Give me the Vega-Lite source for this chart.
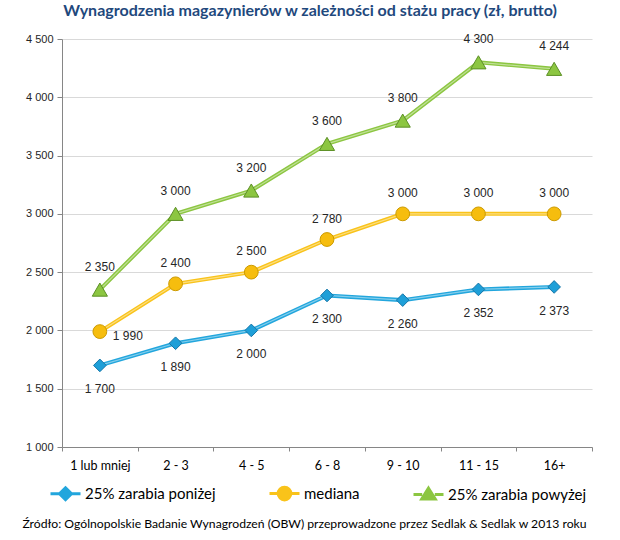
{
  "$schema": "https://vega.github.io/schema/vega-lite/v6.json",
  "width": 530,
  "height": 408,
  "autosize": {"type": "none"},
  "padding": {"left": 62, "top": 39, "right": 28, "bottom": 93},
  "background": "white",
  "config": {
    "locale": {"number": {"decimal": ",", "thousands": " ", "grouping": [3], "currency": ["", " zł"]}},
    "view": {"stroke": null}
  },
  "title": {
    "text": "Wynagrodzenia magazynierów w zależności od stażu pracy (zł, brutto)",
    "font": "Lato",
    "fontSize": 16,
    "fontWeight": "bold",
    "color": "#1F497D",
    "anchor": "middle",
    "dx": -17,
    "offset": 14
  },
  "data": {
    "values": [
      {"staz": "1 lub mniej", "seria": "25% zarabia poniżej", "wartosc": 1700},
      {"staz": "2 - 3", "seria": "25% zarabia poniżej", "wartosc": 1890},
      {"staz": "4 - 5", "seria": "25% zarabia poniżej", "wartosc": 2000},
      {"staz": "6 - 8", "seria": "25% zarabia poniżej", "wartosc": 2300},
      {"staz": "9 - 10", "seria": "25% zarabia poniżej", "wartosc": 2260},
      {"staz": "11 - 15", "seria": "25% zarabia poniżej", "wartosc": 2352},
      {"staz": "16+", "seria": "25% zarabia poniżej", "wartosc": 2373},
      {"staz": "1 lub mniej", "seria": "mediana", "wartosc": 1990},
      {"staz": "2 - 3", "seria": "mediana", "wartosc": 2400},
      {"staz": "4 - 5", "seria": "mediana", "wartosc": 2500},
      {"staz": "6 - 8", "seria": "mediana", "wartosc": 2780},
      {"staz": "9 - 10", "seria": "mediana", "wartosc": 3000},
      {"staz": "11 - 15", "seria": "mediana", "wartosc": 3000},
      {"staz": "16+", "seria": "mediana", "wartosc": 3000},
      {"staz": "1 lub mniej", "seria": "25% zarabia powyżej", "wartosc": 2350},
      {"staz": "2 - 3", "seria": "25% zarabia powyżej", "wartosc": 3000},
      {"staz": "4 - 5", "seria": "25% zarabia powyżej", "wartosc": 3200},
      {"staz": "6 - 8", "seria": "25% zarabia powyżej", "wartosc": 3600},
      {"staz": "9 - 10", "seria": "25% zarabia powyżej", "wartosc": 3800},
      {"staz": "11 - 15", "seria": "25% zarabia powyżej", "wartosc": 4300},
      {"staz": "16+", "seria": "25% zarabia powyżej", "wartosc": 4244}
    ]
  },
  "encoding": {
    "x": {
      "field": "staz",
      "type": "nominal",
      "sort": ["1 lub mniej", "2 - 3", "4 - 5", "6 - 8", "9 - 10", "11 - 15", "16+"],
      "scale": {"paddingInner": 0, "paddingOuter": 0},
      "axis": {
        "title": "Źródło: Ogólnopolskie Badanie Wynagrodzeń (OBW) przeprowadzone przez Sedlak & Sedlak w 2013 roku",
        "titleFont": "Lato",
        "titleFontSize": 12.2,
        "titleFontWeight": "normal",
        "titleColor": "#000000",
        "titlePadding": 46,
        "titleX": 242,
        "labelAngle": 0,
        "labelFont": "Lato",
        "labelFontSize": 12.5,
        "labelColor": "#000000",
        "labelPadding": 8,
        "tickBand": "extent",
        "tickSize": 4,
        "tickColor": "#868686",
        "domainColor": "#868686",
        "grid": false
      }
    },
    "y": {
      "field": "wartosc",
      "type": "quantitative",
      "scale": {"domain": [1000, 4500], "nice": false, "zero": false},
      "axis": {
        "title": null,
        "values": [1000, 1500, 2000, 2500, 3000, 3500, 4000, 4500],
        "format": ",d",
        "labelFont": "Liberation Sans",
        "labelFontSize": 11,
        "labelColor": "#262626",
        "labelPadding": 4,
        "tickSize": 5,
        "tickColor": "#868686",
        "domainColor": "#868686",
        "gridColor": "#D9D9D9",
        "gridWidth": 1
      }
    }
  },
  "layer": [
    {
      "mark": {"type": "line", "strokeWidth": 4},
      "encoding": {
        "color": {
          "field": "seria",
          "type": "nominal",
          "scale": {
            "domain": ["25% zarabia poniżej", "mediana", "25% zarabia powyżej"],
            "range": ["#22A6DD", "#F9C31A", "#8CC641"]
          },
          "legend": {
            "orient": "none",
            "legendX": -13,
            "legendY": 438,
            "direction": "horizontal",
            "title": null,
            "labelFont": "Lato",
            "labelFontSize": 15,
            "labelColor": "#000000",
            "symbolSize": 900,
            "columnPadding": 47,
            "labelOffset": 3,
            "encode": {
              "symbols": {
                "update": {
                  "shape": {"signal": "datum.value === 'mediana' ? 'M-1,0H-0.42M0.42,0H1M-0.42,0A0.42,0.42 0 1,0 0.42,0A0.42,0.42 0 1,0 -0.42,0Z' : datum.value === '25% zarabia poniżej' ? 'M-1,0H-0.4M0.4,0H1M0,-0.4L0.4,0L0,0.4L-0.4,0Z' : 'M-1,0H-0.42M0.42,0H1M0,-0.42L0.45,0.3L-0.45,0.3Z'"},
                  "fill": {"signal": "scale('color', datum.value)"},
                  "stroke": {"signal": "scale('color', datum.value)"},
                  "strokeWidth": {"value": 3},
                  "opacity": {"value": 1}
                }
              }
            }
          }
        }
      }
    },
    {
      "mark": {"type": "line", "strokeWidth": 1.2, "color": "white", "opacity": 0.45},
      "encoding": {"detail": {"field": "seria", "type": "nominal"}}
    },
    {
      "transform": [{"filter": "datum.seria === '25% zarabia poniżej'"}],
      "mark": {"type": "point", "shape": "diamond", "filled": true, "opacity": 1, "size": 160, "fill": "#1E9FD8", "stroke": "#1676A8", "strokeWidth": 1},
      "encoding": {}
    },
    {
      "transform": [{"filter": "datum.seria === 'mediana'"}],
      "mark": {"type": "point", "shape": "circle", "filled": true, "opacity": 1, "size": 190, "fill": "#F6BD0E", "stroke": "#CC9A00", "strokeWidth": 1},
      "encoding": {}
    },
    {
      "transform": [{"filter": "datum.seria === '25% zarabia powyżej'"}],
      "mark": {"type": "point", "shape": "triangle-up", "filled": true, "opacity": 1, "size": 230, "fill": "#8CC641", "stroke": "#5C8F26", "strokeWidth": 1},
      "encoding": {}
    },
    {
      "transform": [{"filter": "datum.seria === '25% zarabia powyżej'"}],
      "mark": {"type": "text", "dy": -23, "font": "Liberation Sans", "fontSize": 12, "color": "#262626"},
      "encoding": {"text": {"field": "wartosc", "type": "quantitative", "format": ",d"}}
    },
    {
      "transform": [{"filter": "datum.seria === 'mediana' && datum.staz !== '1 lub mniej'"}],
      "mark": {"type": "text", "dy": -21, "font": "Liberation Sans", "fontSize": 12, "color": "#262626"},
      "encoding": {"text": {"field": "wartosc", "type": "quantitative", "format": ",d"}}
    },
    {
      "transform": [{"filter": "datum.seria === 'mediana' && datum.staz === '1 lub mniej'"}],
      "mark": {"type": "text", "dx": 28, "dy": 4, "font": "Liberation Sans", "fontSize": 12, "color": "#262626"},
      "encoding": {"text": {"field": "wartosc", "type": "quantitative", "format": ",d"}}
    },
    {
      "transform": [{"filter": "datum.seria === '25% zarabia poniżej'"}],
      "mark": {"type": "text", "dy": 24, "font": "Liberation Sans", "fontSize": 12, "color": "#262626"},
      "encoding": {"text": {"field": "wartosc", "type": "quantitative", "format": ",d"}}
    }
  ]
}
